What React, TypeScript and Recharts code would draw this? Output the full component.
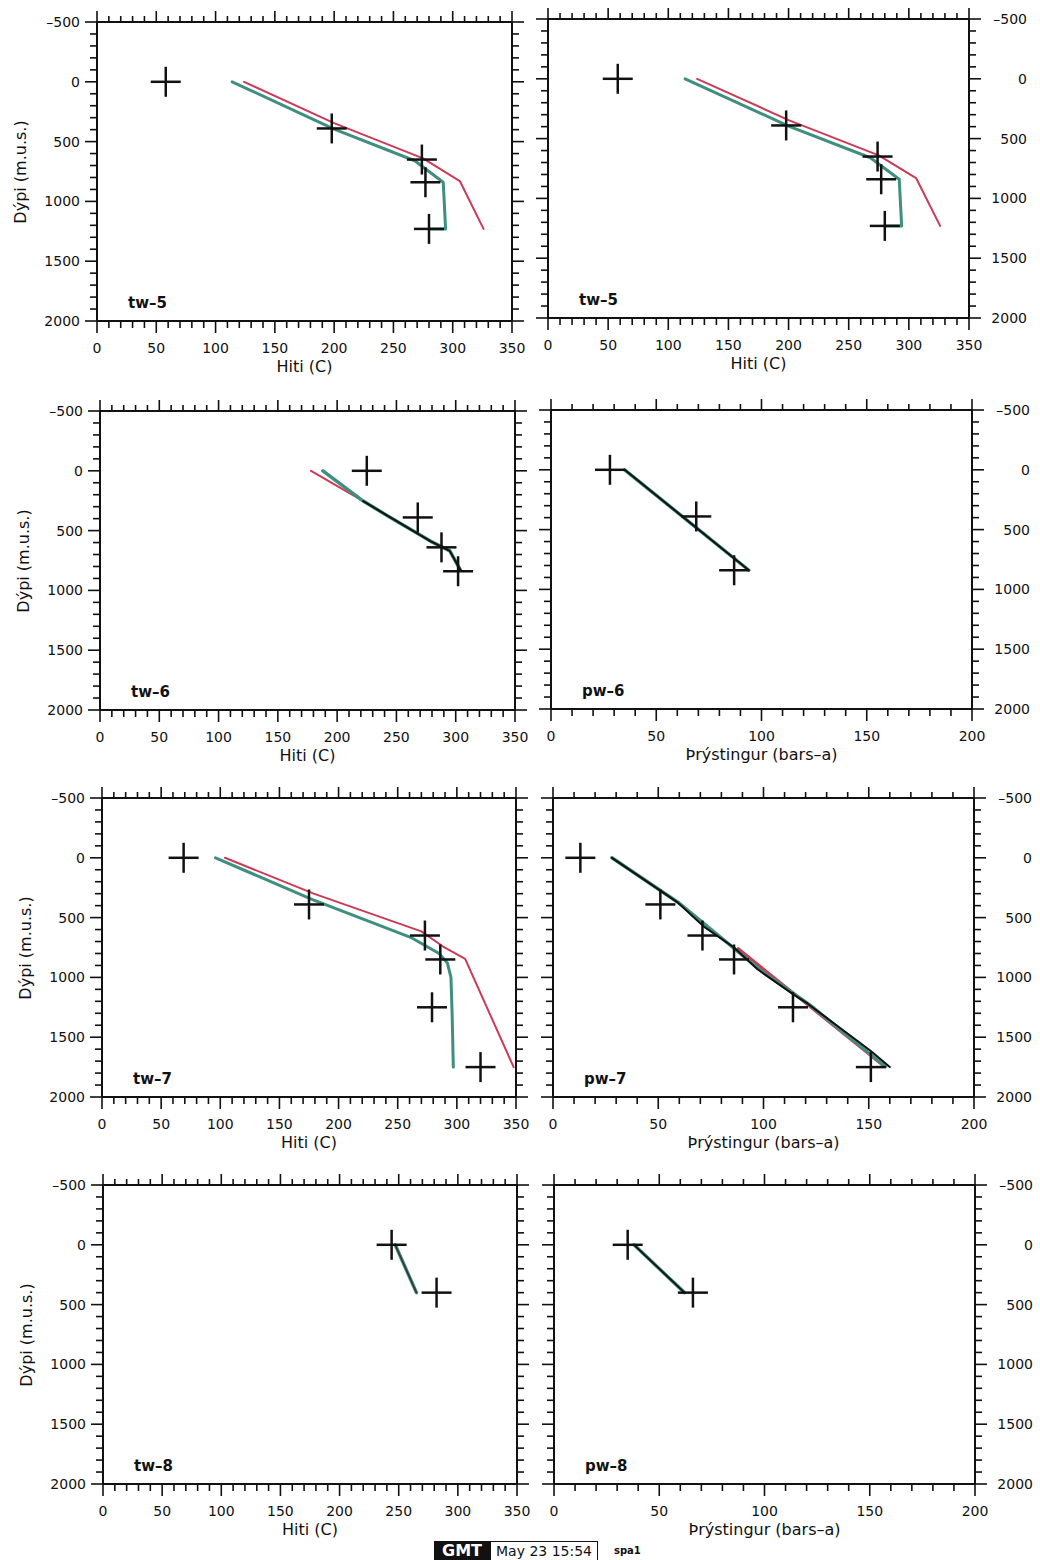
import React from 'react'
import { ScatterChart, Scatter, XAxis, YAxis } from 'recharts'

type Pt = { x: number; y: number }

// tw-5 (shown twice in the top row)
const tw5Measured: Pt[] = [
  { x: 58, y: 0 }, { x: 198, y: 390 }, { x: 274, y: 650 }, { x: 277, y: 840 }, { x: 280, y: 1230 },
]
const tw5Red: Pt[] = [
  { x: 124, y: 0 }, { x: 200, y: 345 }, { x: 275, y: 640 }, { x: 306, y: 830 }, { x: 326, y: 1230 },
]
const tw5Teal: Pt[] = [
  { x: 114, y: 0 }, { x: 200, y: 395 }, { x: 268, y: 660 }, { x: 292, y: 840 }, { x: 294, y: 1230 }, { x: 281, y: 1230 },
]

// tw-6 / pw-6
const tw6Measured: Pt[] = [{ x: 225, y: 0 }, { x: 268, y: 390 }, { x: 288, y: 640 }, { x: 302, y: 840 }]
const tw6Red: Pt[] = [
  { x: 178, y: 0 }, { x: 222, y: 253 }, { x: 242, y: 373 }, { x: 279, y: 590 }, { x: 295, y: 670 }, { x: 304, y: 830 },
]
const tw6Teal: Pt[] = [
  { x: 188, y: 0 }, { x: 222, y: 253 }, { x: 242, y: 373 }, { x: 279, y: 590 }, { x: 295, y: 670 }, { x: 304, y: 830 },
]
const tw6Black: Pt[] = [
  { x: 222, y: 253 }, { x: 242, y: 373 }, { x: 279, y: 590 }, { x: 295, y: 670 }, { x: 304, y: 830 },
]
const pw6Measured: Pt[] = [{ x: 28, y: 0 }, { x: 69, y: 390 }, { x: 87, y: 840 }]
const pw6Black: Pt[] = [{ x: 35, y: 0 }, { x: 94, y: 840 }]
const pw6Teal: Pt[] = [{ x: 35, y: 0 }, { x: 94, y: 840 }]

// tw-7 / pw-7
const tw7Measured: Pt[] = [
  { x: 69, y: 0 }, { x: 175, y: 390 }, { x: 273, y: 650 }, { x: 286, y: 850 }, { x: 279, y: 1250 }, { x: 320, y: 1750 },
]
const tw7Red: Pt[] = [
  { x: 104, y: 0 }, { x: 179, y: 300 }, { x: 270, y: 615 }, { x: 288, y: 740 }, { x: 307, y: 845 }, { x: 348, y: 1750 },
]
const tw7Teal: Pt[] = [
  { x: 96, y: 0 }, { x: 178, y: 350 }, { x: 262, y: 670 }, { x: 285, y: 800 }, { x: 292, y: 880 },
  { x: 295, y: 1000 }, { x: 296, y: 1300 }, { x: 297, y: 1750 },
]
const pw7Measured: Pt[] = [
  { x: 13, y: 0 }, { x: 51, y: 390 }, { x: 71, y: 650 }, { x: 86, y: 850 }, { x: 114, y: 1250 }, { x: 151, y: 1750 },
]
const pw7Red: Pt[] = [{ x: 88, y: 760 }, { x: 150, y: 1640 }, { x: 157, y: 1740 }]
const pw7Teal: Pt[] = [
  { x: 28, y: 0 }, { x: 60, y: 380 }, { x: 100, y: 960 }, { x: 122, y: 1230 }, { x: 158, y: 1745 },
]
const pw7Black: Pt[] = [
  { x: 28, y: 0 }, { x: 51, y: 275 }, { x: 59, y: 370 }, { x: 72, y: 580 }, { x: 86, y: 750 },
  { x: 97, y: 930 }, { x: 114, y: 1140 }, { x: 121, y: 1220 }, { x: 151, y: 1615 }, { x: 160, y: 1750 },
]

// tw-8 / pw-8
const tw8Measured: Pt[] = [{ x: 244, y: 0 }, { x: 282, y: 400 }]
const tw8Line: Pt[] = [{ x: 247, y: 0 }, { x: 265, y: 400 }]
const pw8Measured: Pt[] = [{ x: 35, y: 0 }, { x: 66, y: 400 }]
const pw8Line: Pt[] = [{ x: 38, y: 0 }, { x: 62, y: 400 }]

const range = (a: number, b: number, step: number) => {
  const out: number[] = []
  for (let v = a; v <= b; v += step) out.push(v)
  return out
}
const depthTicks = range(-500, 2000, 100)
const depthLabels = [-500, 0, 500, 1000, 1500, 2000]
const tempTicks = range(0, 350, 10)
const tempLabels = [0, 50, 100, 150, 200, 250, 300, 350]
const presTicks = range(0, 200, 10)
const presLabels = [0, 50, 100, 150, 200]

const FONT = '"DejaVu Sans", Verdana, sans-serif'
const INK = '#111'
const RED = '#cc3b55'
const TEAL = '#3f8f80'

const PLOT_H = 299
const TOP_W = 14
const BOTTOM_H = 40

const fmt = (v: number) => (v < 0 ? `\u2013${-v}` : `${v}`)
const tickFont = { fontFamily: FONT, fontSize: 14, fill: INK }

const bottomTick = (labels: number[]) => (p: any) => {
  const v = p.payload.value
  const major = labels.includes(v)
  return (
    <g>
      <line x1={p.x} x2={p.x} y1={p.y} y2={p.y + (major ? 12 : 7)} stroke={INK} strokeWidth={1.6} />
      {major && (
        <text x={p.x} y={p.y + 32} textAnchor="middle" {...tickFont}>
          {fmt(v)}
        </text>
      )}
    </g>
  )
}

const topTick = (labels: number[]) => (p: any) => {
  const major = labels.includes(p.payload.value)
  return <line x1={p.x} x2={p.x} y1={p.y} y2={p.y - (major ? 11 : 6)} stroke={INK} strokeWidth={1.6} />
}

const leftTick = (showLabel: boolean) => (p: any) => {
  const v = p.payload.value
  const major = depthLabels.includes(v)
  return (
    <g>
      <line x1={p.x} x2={p.x - (major ? 12 : 7)} y1={p.y} y2={p.y} stroke={INK} strokeWidth={1.6} />
      {showLabel && major && (
        <text x={p.x - 17} y={p.y + 5} textAnchor="end" {...tickFont}>
          {fmt(v)}
        </text>
      )}
    </g>
  )
}

const rightTick = (showLabel: boolean) => (p: any) => {
  const v = p.payload.value
  const major = depthLabels.includes(v)
  return (
    <g>
      <line x1={p.x} x2={p.x + (major ? 12 : 7)} y1={p.y} y2={p.y} stroke={INK} strokeWidth={1.6} />
      {showLabel && major && (
        <text x={p.x + 58} y={p.y + 5} textAnchor="end" {...tickFont}>
          {fmt(v)}
        </text>
      )}
    </g>
  )
}

const Cross = (props: any) => {
  const { cx, cy } = props
  return (
    <g>
      <line x1={cx - 15} x2={cx + 15} y1={cy} y2={cy} stroke={INK} strokeWidth={2.5} />
      <line x1={cx} x2={cx} y1={cy - 15} y2={cy + 15} stroke={INK} strokeWidth={2.5} />
    </g>
  )
}
const NoDot = () => <g />

type Series = { data: Pt[]; color: string; width: number }
type PanelCfg = {
  name: string
  kind: 'T' | 'P'
  side: 'left' | 'right'
  plotX: number
  plotY: number
  plotW: number
  measured: Pt[]
  lines: Series[]
}

const panels: PanelCfg[] = [
  {
    name: 'tw\u20135', kind: 'T', side: 'left', plotX: 97, plotY: 22, plotW: 415, measured: tw5Measured,
    lines: [{ data: tw5Red, color: RED, width: 2 }, { data: tw5Teal, color: TEAL, width: 3 }],
  },
  {
    name: 'tw\u20135', kind: 'T', side: 'right', plotX: 548, plotY: 19, plotW: 421, measured: tw5Measured,
    lines: [{ data: tw5Red, color: RED, width: 2 }, { data: tw5Teal, color: TEAL, width: 3 }],
  },
  {
    name: 'tw\u20136', kind: 'T', side: 'left', plotX: 100, plotY: 411, plotW: 415, measured: tw6Measured,
    lines: [
      { data: tw6Red, color: RED, width: 2 },
      { data: tw6Teal, color: TEAL, width: 3.5 },
      { data: tw6Black, color: INK, width: 2 },
    ],
  },
  {
    name: 'pw\u20136', kind: 'P', side: 'right', plotX: 551, plotY: 410, plotW: 421, measured: pw6Measured,
    lines: [{ data: pw6Teal, color: TEAL, width: 3.5 }, { data: pw6Black, color: INK, width: 2 }],
  },
  {
    name: 'tw\u20137', kind: 'T', side: 'left', plotX: 102, plotY: 798, plotW: 414, measured: tw7Measured,
    lines: [{ data: tw7Red, color: RED, width: 2 }, { data: tw7Teal, color: TEAL, width: 3 }],
  },
  {
    name: 'pw\u20137', kind: 'P', side: 'right', plotX: 553, plotY: 798, plotW: 421, measured: pw7Measured,
    lines: [
      { data: pw7Red, color: RED, width: 3 },
      { data: pw7Teal, color: TEAL, width: 3.5 },
      { data: pw7Black, color: INK, width: 2 },
    ],
  },
  {
    name: 'tw\u20138', kind: 'T', side: 'left', plotX: 103, plotY: 1185, plotW: 414, measured: tw8Measured,
    lines: [{ data: tw8Line, color: TEAL, width: 3.5 }, { data: tw8Line, color: '#333', width: 1.5 }],
  },
  {
    name: 'pw\u20138', kind: 'P', side: 'right', plotX: 554, plotY: 1185, plotW: 421, measured: pw8Measured,
    lines: [{ data: pw8Line, color: TEAL, width: 3.5 }, { data: pw8Line, color: INK, width: 1.8 }],
  },
]

function Panel({ cfg }: { cfg: PanelCfg }) {
  const leftW = cfg.side === 'left' ? 90 : 16
  const rightW = cfg.side === 'left' ? 16 : 62
  const width = leftW + cfg.plotW + rightW
  const height = TOP_W + PLOT_H + BOTTOM_H
  const xMax = cfg.kind === 'T' ? 350 : 200
  const xTicks = cfg.kind === 'T' ? tempTicks : presTicks
  const xLabels = cfg.kind === 'T' ? tempLabels : presLabels
  const xTitle = cfg.kind === 'T' ? 'Hiti (C)' : '\u00DEr\u00FDstingur (bars\u2013a)'
  const frame = { stroke: INK, strokeWidth: 2 }
  const left = cfg.plotX - leftW
  const top = cfg.plotY - TOP_W
  const plotBottom = TOP_W + PLOT_H

  return (
    <div style={{ position: 'absolute', left, top, width, height: height + 30 }}>
      <ScatterChart width={width} height={height} margin={{ top: 0, right: 0, bottom: 0, left: 0 }}>
        <XAxis
          xAxisId="b" type="number" dataKey="x" domain={[0, xMax]} allowDataOverflow
          ticks={xTicks} interval={0} orientation="bottom" height={BOTTOM_H}
          tickLine={false} tickSize={0} tickMargin={0} axisLine={frame} tick={bottomTick(xLabels)}
        />
        <XAxis
          xAxisId="t" type="number" dataKey="x" domain={[0, xMax]} allowDataOverflow
          ticks={xTicks} interval={0} orientation="top" height={TOP_W}
          tickLine={false} tickSize={0} tickMargin={0} axisLine={frame} tick={topTick(xLabels)}
        />
        <YAxis
          yAxisId="l" type="number" dataKey="y" domain={[-500, 2000]} reversed allowDataOverflow
          ticks={depthTicks} interval={0} width={leftW}
          tickLine={false} tickSize={0} tickMargin={0} axisLine={frame} tick={leftTick(cfg.side === 'left')}
        />
        <YAxis
          yAxisId="r" type="number" dataKey="y" domain={[-500, 2000]} reversed allowDataOverflow
          ticks={depthTicks} interval={0} width={rightW} orientation="right"
          tickLine={false} tickSize={0} tickMargin={0} axisLine={frame} tick={rightTick(cfg.side === 'right')}
        />
        {cfg.lines.map((s, i) => (
          <Scatter
            key={i}
            xAxisId="b"
            yAxisId="l"
            data={s.data}
            fill={s.color}
            line={{ stroke: s.color, strokeWidth: s.width, strokeLinejoin: 'round', strokeLinecap: 'round' }}
            shape={NoDot}
            isAnimationActive={false}
          />
        ))}
        <Scatter xAxisId="b" yAxisId="l" data={cfg.measured} fill={INK} shape={Cross} isAnimationActive={false} />
      </ScatterChart>

      <div
        style={{
          position: 'absolute', left: leftW + 31, top: plotBottom - 28, fontFamily: FONT,
          fontWeight: 'bold', fontSize: 15, lineHeight: '20px', color: INK,
        }}
      >
        {cfg.name}
      </div>

      <div
        style={{
          position: 'absolute', left: leftW, width: cfg.plotW, top: plotBottom + 37, textAlign: 'center',
          fontFamily: FONT, fontSize: 16, lineHeight: '18px', color: INK, whiteSpace: 'nowrap',
        }}
      >
        {xTitle}
      </div>

      {cfg.side === 'left' && (
        <div
          style={{
            position: 'absolute', left: leftW - 76, top: TOP_W + PLOT_H / 2,
            transform: 'translate(-50%, -50%) rotate(-90deg)', fontFamily: FONT, fontSize: 16,
            lineHeight: '18px', color: INK, whiteSpace: 'nowrap',
          }}
        >
          Dýpi (m.u.s.)
        </div>
      )}
    </div>
  )
}

export default function App() {
  return (
    <div style={{ position: 'absolute', left: 0, top: 0, width: 1040, height: 1560, background: '#fff', overflow: 'hidden' }}>
      {panels.map((cfg, i) => (
        <Panel key={i} cfg={cfg} />
      ))}

      <div style={{ position: 'absolute', left: 434, top: 1541, height: 19, display: 'flex', alignItems: 'stretch', fontFamily: FONT }}>
        <div style={{ width: 56, boxSizing: 'border-box', textAlign: 'center', background: '#111', color: '#fff', fontWeight: 'bold', fontSize: 16, lineHeight: '19px' }}>
          GMT
        </div>
        <div style={{ width: 108, boxSizing: 'border-box', textAlign: 'center', border: '1px solid #111', borderBottom: 'none', fontSize: 14, lineHeight: '18px', color: INK, whiteSpace: 'nowrap' }}>
          May 23 15:54
        </div>
      </div>
      <div style={{ position: 'absolute', left: 614, top: 1545, fontFamily: FONT, fontWeight: 'bold', fontSize: 10, lineHeight: '12px', color: INK }}>
        spa1
      </div>
    </div>
  )
}
